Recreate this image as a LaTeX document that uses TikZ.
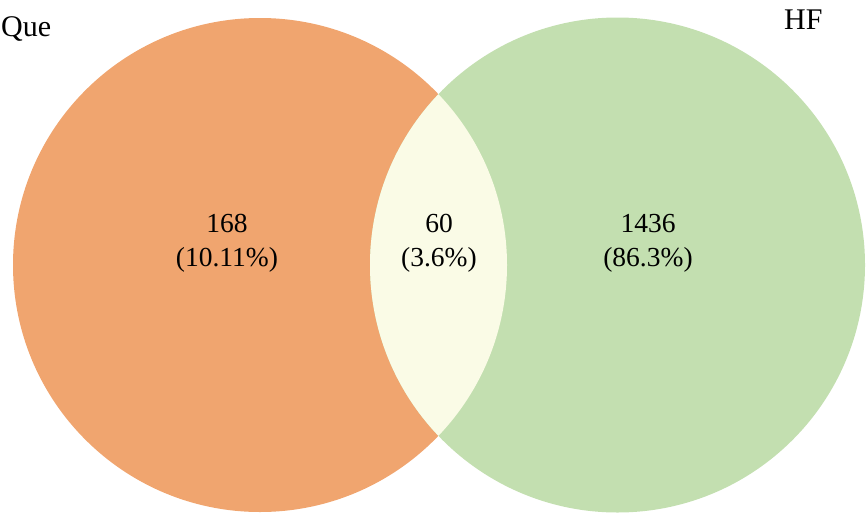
\documentclass[tikz,border=0pt]{standalone}
\usepackage{fontspec}
\setmainfont{Liberation Serif}
\definecolor{queC}{HTML}{F0A56F}
\definecolor{hfC}{HTML}{C3DFB0}
\definecolor{midC}{HTML}{FAFBE6}
\begin{document}
\begin{tikzpicture}[x=1pt,y=-1pt,
  lbl/.style={font=\fontsize{27.5}{34}\selectfont, align=center, inner sep=0pt},
  ttl/.style={font=\fontsize{30}{32}\selectfont, inner sep=0pt}]
\useasboundingbox (0,0) rectangle (867,514);
\fill[queC] (260,265) circle (247);
\fill[hfC] (617.5,265) circle (247.5);
\begin{scope}
\clip (260,265) circle (247);
\fill[midC] (617.5,265) circle (247.5);
\end{scope}
\node[ttl, anchor=west] (que) at (1,29) {Que};
\node[ttl, anchor=west] (hf) at (784,20) {HF};
\node[lbl] (a) at (227,243) {168\\(10.11\%)};
\node[lbl] (b) at (439,243) {60\\(3.6\%)};
\node[lbl] (c) at (648,243) {1436\\(86.3\%)};
\end{tikzpicture}
\end{document}
